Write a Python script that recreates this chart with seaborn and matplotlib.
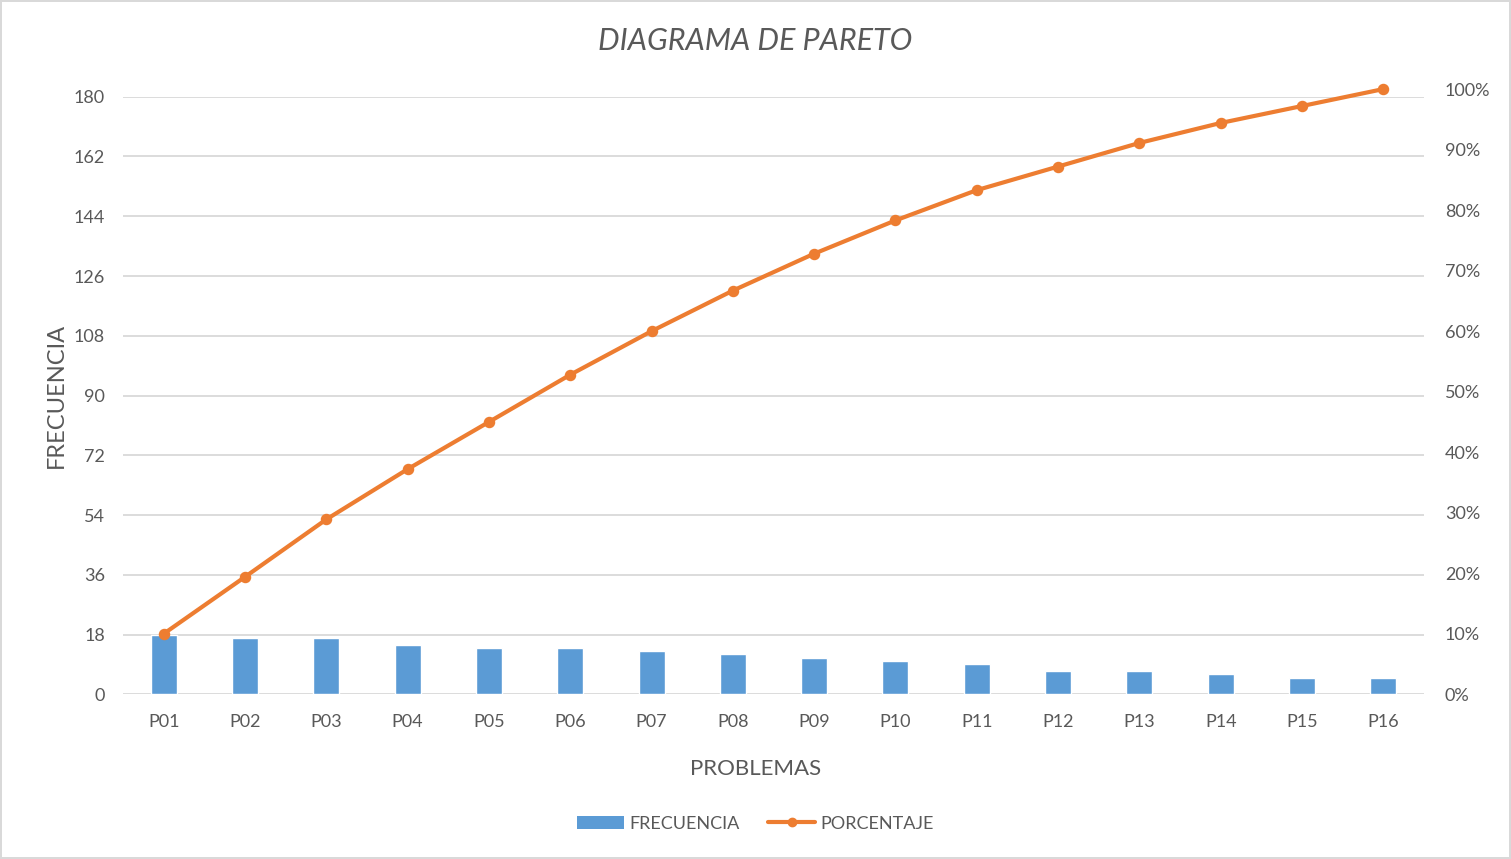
import matplotlib
matplotlib.use("Agg")
import matplotlib.pyplot as plt
import seaborn as sns
from matplotlib.patches import Patch
from matplotlib.lines import Line2D
from matplotlib.ticker import PercentFormatter

sns.set_style("white")
plt.rcParams['font.family'] = ['Lato', 'DejaVu Sans']

# datos
problemas = ['P01', 'P02', 'P03', 'P04', 'P05', 'P06', 'P07', 'P08',
             'P09', 'P10', 'P11', 'P12', 'P13', 'P14', 'P15', 'P16']
frecuencia = [18, 17, 17, 15, 14, 14, 13, 12, 11, 10, 9, 7, 7, 6, 5, 5]
porcentaje = [0.100, 0.194, 0.289, 0.372, 0.450, 0.528, 0.600, 0.667,
              0.728, 0.783, 0.833, 0.872, 0.911, 0.944, 0.972, 1.000]

azul = '#5b9bd5'
naranja = '#ed7d31'
gris = '#595959'

fig = plt.figure(figsize=(15.11, 8.59), dpi=100)
fig.patch.set_edgecolor('#d9d9d9')
fig.patch.set_linewidth(1.5)
ax = fig.add_axes([0.0814, 0.1917, 0.861, 0.6957])

sns.barplot(x=problemas, y=frecuencia, color=azul, width=0.32, saturation=1, ax=ax, zorder=2)
ax.set_ylim(0, 180)
ax.set_yticks(range(0, 181, 18))
ax.grid(axis='y', color='#d9d9d9', linewidth=1.3, zorder=0)
ax.set_axisbelow(True)
for s in ax.spines.values():
    s.set_visible(False)

# eje secundario: un poco más alto que el primario, como en el original
ax2 = fig.add_axes([0.0814, 0.1917, 0.861, 0.7046], sharex=ax)
ax2.patch.set_visible(False)
sns.pointplot(x=problemas, y=porcentaje, color=naranja, markers='o', ax=ax2,
              markersize=6, linewidth=3)
for ln in ax2.lines:
    ln.set_clip_on(False)
ax2.set_ylim(0, 1.0)
ax2.yaxis.tick_right()
ax2.set_yticks([i / 10 for i in range(11)])
ax2.yaxis.set_major_formatter(PercentFormatter(xmax=1, decimals=0))
ax2.grid(False)
for s in ax2.spines.values():
    s.set_visible(False)
ax2.set_ylabel('')
ax2.set_xlabel('')
ax2.tick_params(axis='x', length=0, labelbottom=False)
ax.set_xlim(-0.5, 15.5)

ax.tick_params(axis='both', length=0, labelsize=13, labelcolor=gris)
ax.tick_params(axis='x', labelbottom=True)
ax.tick_params(axis='y', pad=13)
ax.tick_params(axis='x', pad=14)
ax2.tick_params(axis='y', length=0, labelsize=13, labelcolor=gris, pad=15)

ax.set_xlabel('PROBLEMAS', fontsize=16, color=gris)
ax.xaxis.set_label_coords(0.4865, -0.108)
ax.set_ylabel('FRECUENCIA', fontsize=17, color=gris, labelpad=5)
fig.suptitle('DIAGRAMA DE PARETO', fontsize=22, color=gris, style='italic',
             y=0.952, va='center')

handles = [Patch(facecolor=azul, edgecolor='none'),
           Line2D([0], [0], color=naranja, lw=3, marker='o', markersize=6)]
fig.legend(handles, ['FRECUENCIA', 'PORCENTAJE'], loc='center',
           bbox_to_anchor=(0.5, 0.041), ncol=2, frameon=False, fontsize=13,
           labelcolor=gris, handlelength=2.6, handletextpad=0.3, columnspacing=1.6)

fig.savefig('out.png', dpi=100)
